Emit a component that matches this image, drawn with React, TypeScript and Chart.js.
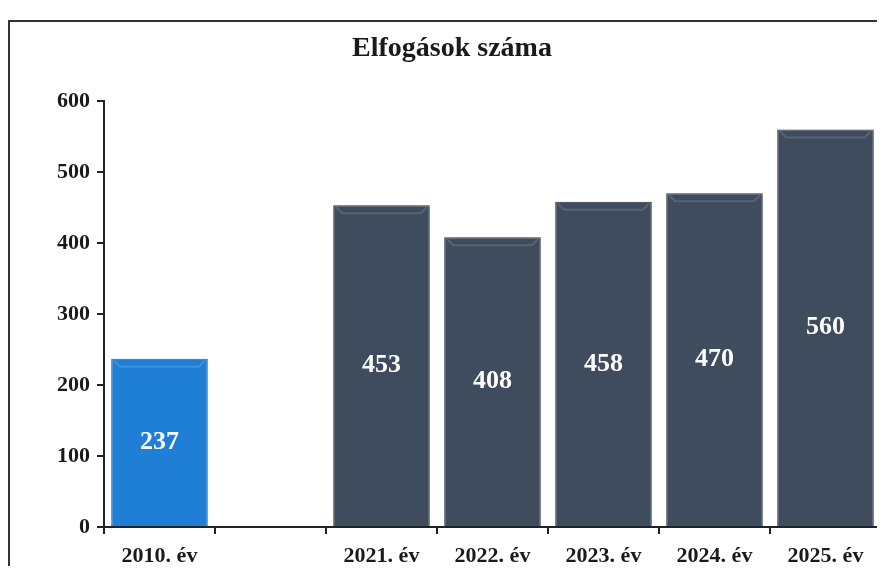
import React, { useEffect, useRef } from "react";
import { Chart, registerables } from "chart.js";

Chart.register(...registerables);

const categories = ["2010. év", "", "2021. év", "2022. év", "2023. év", "2024. év", "2025. év"];
const values: (number | null)[] = [237, null, 453, 408, 458, 470, 560];
const barColors = ["#1f7fd6", "#3e4c5e", "#3e4c5e", "#3e4c5e", "#3e4c5e", "#3e4c5e", "#3e4c5e"];
const borderColors = ["#1761a8", "#283340", "#283340", "#283340", "#283340", "#283340", "#283340"];
const titleText = "Elfogások száma";
const yMin = 0;
const yMax = 600;
const yStep = 100;

const FONT = "'Liberation Serif', 'Times New Roman', serif";

export default function App() {
  const ref = useRef<HTMLCanvasElement>(null);

  useEffect(() => {
    if (!ref.current) return;
    const framePlugin = {
      id: "frame",
      beforeDraw(chart: any) {
        const ctx = chart.ctx;
        ctx.save();
        ctx.fillStyle = "#ffffff";
        ctx.fillRect(0, 0, chart.width, chart.height);
        ctx.strokeStyle = "#333";
        ctx.lineWidth = 2;
        ctx.beginPath();
        ctx.moveTo(9, chart.height);
        ctx.lineTo(9, 21);
        ctx.lineTo(chart.width, 21);
        ctx.stroke();
        ctx.restore();
      },
    };
    const titlePlugin = {
      id: "customTitle",
      afterDraw(chart: any) {
        const ctx = chart.ctx;
        ctx.save();
        ctx.font = `bold 28px ${FONT}`;
        ctx.fillStyle = "#1a1a1a";
        ctx.textAlign = "center";
        ctx.textBaseline = "middle";
        ctx.fillText(titleText, 452, 49);
        ctx.restore();
      },
    };
    const valuePlugin = {
      id: "valueLabels",
      afterDatasetsDraw(chart: any) {
        const ctx = chart.ctx;
        const meta = chart.getDatasetMeta(0);
        ctx.save();
        meta.data.forEach((el: any, i: number) => {
          const v = values[i];
          if (v == null) return;
          const p = el.getProps(["x", "y", "base", "width"], true);
          const l = p.x - p.width / 2;
          const r = p.x + p.width / 2;
          // subtle bevel highlight near the top
          ctx.strokeStyle = "rgba(255,255,255,0.14)";
          ctx.lineWidth = 2;
          ctx.beginPath();
          ctx.moveTo(l + 3, p.y + 2);
          ctx.lineTo(l + 9, p.y + 8);
          ctx.lineTo(r - 9, p.y + 8);
          ctx.lineTo(r - 3, p.y + 2);
          ctx.stroke();
          ctx.font = `bold 26px ${FONT}`;
          ctx.fillStyle = "#ffffff";
          ctx.textAlign = "center";
          ctx.textBaseline = "middle";
          ctx.fillText(String(v), p.x, (p.y + p.base) / 2);
        });
        ctx.restore();
      },
    };
    const chart = new Chart(ref.current, {
      type: "bar",
      data: {
        labels: categories,
        datasets: [
          {
            data: values,
            backgroundColor: barColors,
            borderColor: borderColors,
            borderWidth: 1,
            categoryPercentage: 0.87,
            barPercentage: 1,
          },
        ],
      },
      options: {
        animation: false,
        responsive: false,
        layout: { padding: { top: 101, right: 4, left: 0, bottom: 0 } },
        plugins: { legend: { display: false }, tooltip: { enabled: false }, title: { display: false } },
        scales: {
          x: {
            grid: {
              display: true,
              drawOnChartArea: false,
              drawTicks: true,
              tickLength: 7,
              color: "#222",
              lineWidth: 2,
              offset: true,
            },
            border: { display: true, color: "#222", width: 2 },
            ticks: {
              font: { family: FONT, size: 22, weight: "bold" },
              color: "#1a1a1a",
              padding: 9,
              maxRotation: 0,
              autoSkip: false,
            },
            afterFit(scale: any) {
              scale.height = 47;
            },
          },
          y: {
            min: yMin,
            max: yMax,
            grid: {
              display: true,
              drawOnChartArea: false,
              drawTicks: true,
              tickLength: 7,
              color: "#222",
              lineWidth: 2,
            },
            border: { display: true, color: "#222", width: 2 },
            ticks: {
              stepSize: yStep,
              font: { family: FONT, size: 22, weight: "bold" },
              color: "#1a1a1a",
              padding: 7,
            },
            afterFit(scale: any) {
              scale.width = 104;
            },
          },
        },
      },
      plugins: [framePlugin, titlePlugin, valuePlugin],
    } as any);
    return () => chart.destroy();
  }, []);

  return (
    <div style={{ position: "relative", width: 885, height: 574, margin: -8, background: "#fff", overflow: "hidden" }}>
      <canvas ref={ref} width={885} height={574} style={{ position: "absolute", left: 0, top: 0 }} />
    </div>
  );
}
